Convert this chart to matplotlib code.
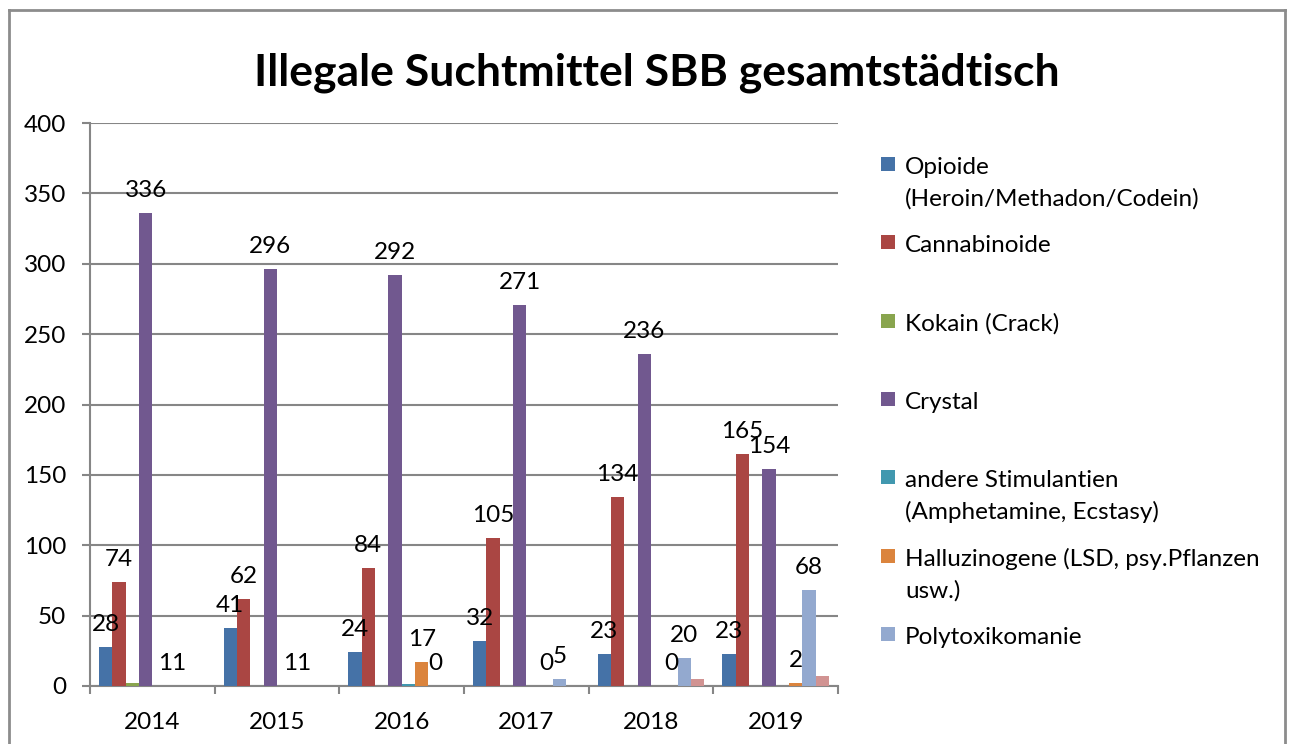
import matplotlib
matplotlib.use("Agg")
import matplotlib.pyplot as plt
import numpy as np
from matplotlib.lines import Line2D
from matplotlib.patches import Rectangle

plt.rcParams['font.family'] = ['Lato', 'DejaVu Sans']

years = ["2014", "2015", "2016", "2017", "2018", "2019"]
series_names = [
    "Opioide\n(Heroin/Methadon/Codein)",
    "Cannabinoide",
    "Kokain (Crack)",
    "Crystal",
    "andere Stimulantien\n(Amphetamine, Ecstasy)",
    "Halluzinogene (LSD, psy.Pflanzen\nusw.)",
    "Polytoxikomanie",
    None,
]
opioide = [28, 41, 24, 32, 23, 23]
cannabinoide = [74, 62, 84, 105, 134, 165]
kokain = [2, 0, 0, 0, 0, 0]
crystal = [336, 296, 292, 271, 236, 154]
stimulantien = [0, 0, 1.5, 0, 0, 0]
halluzinogene = [0, 0, 17, 0, 0, 2]
polytox = [0, 0, 0, 5, 20, 68]
sonstige = [0, 0, 0, 0, 5, 7]

lab_opioide = ["28", "41", "24", "32", "23", "23"]
lab_cannabinoide = ["74", "62", "84", "105", "134", "165"]
lab_crystal = ["336", "296", "292", "271", "236", "154"]
lab_halluzinogene = ["11", "11", "17", "0", "0", "2"]
lab_polytox = [None, None, "0", "5", "20", "68"]

values = [opioide, cannabinoide, kokain, crystal, stimulantien,
          halluzinogene, polytox, sonstige]
labels = [lab_opioide, lab_cannabinoide, None, lab_crystal, None,
          lab_halluzinogene, lab_polytox, None]
colors = ["#4572A7", "#AA4643", "#89A54E", "#71588F", "#4198AF",
          "#DB843D", "#93A9CF", "#D19392"]

W, H = 1289, 744
fig = plt.figure(figsize=(W / 100, H / 100), dpi=100)
ax = fig.add_axes([90 / W, 1 - 686 / H, (838 - 90) / W, (686 - 123) / H])

n = len(values)
bw = 0.107
x = np.arange(len(years))
for i, (vals, labs, col) in enumerate(zip(values, labels, colors)):
    pos = x + (i - (n - 1) / 2) * bw
    ax.bar(pos, vals, width=bw, color=col, zorder=3, linewidth=0)
    if labs is not None:
        for p, v, t in zip(pos, vals, labs):
            if t is None:
                continue
            ax.annotate(t, (p, v), xytext=(0, 11.5), textcoords="offset points",
                        ha="center", va="baseline", fontsize=17.5, color="black",
                        zorder=5)

ax.set_xlim(-0.5, len(years) - 0.5)
ax.set_ylim(0, 400)
ax.set_yticks(np.arange(0, 401, 50))
ax.yaxis.grid(True, color="#868686", linewidth=1.5, zorder=0)
ax.tick_params(axis="y", length=6, width=1.5, color="#868686", pad=11,
               labelsize=17.5)
ax.set_xticks(np.arange(-0.5, len(years), 1.0))
ax.set_xticklabels([])
ax.set_xticks(x, minor=True)
ax.set_xticklabels(years, minor=True)
ax.tick_params(axis="x", which="major", length=6, width=1.5, color="#868686")
ax.tick_params(axis="x", which="minor", length=0, pad=19, labelsize=17.5)
for s in ["top", "right"]:
    ax.spines[s].set_visible(False)
for s in ["left", "bottom"]:
    ax.spines[s].set_color("#868686")
    ax.spines[s].set_linewidth(1.5)

fig.text(657 / W, 1 - 73 / H, "Illegale Suchtmittel SBB gesamtstädtisch",
         ha="center", va="center", fontsize=32, fontweight="bold")

# legend (entries evenly spaced as in the reference)
step = 78.3
for i, (name, col) in enumerate(zip(series_names, colors)):
    if name is None:
        continue
    top = 157 + i * step
    fig.patches.append(Rectangle((881 / W, 1 - (top + 14) / H), 14 / W, 14 / H,
                                 transform=fig.transFigure, facecolor=col,
                                 edgecolor="none"))
    for j, line in enumerate(name.split("\n")):
        fig.text(905 / W, 1 - (top + 17 + 32 * j) / H, line, ha="left",
                 va="baseline", fontsize=17.5)

# outer chart border
bc = "#8C8C8C"
for xs, ys in [([9, 9], [744, 10]), ([9, 1285], [10, 10]), ([1285, 1285], [10, 744])]:
    fig.add_artist(Line2D([v / W for v in xs], [1 - v / H for v in ys],
                          transform=fig.transFigure, color=bc, linewidth=2))

fig.savefig("out.png", dpi=100)
